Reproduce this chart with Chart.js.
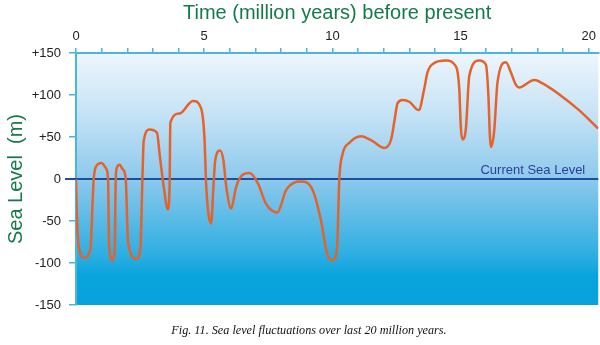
<!DOCTYPE html>
<html>
<head>
<meta charset="utf-8">
<script src="https://cdn.jsdelivr.net/npm/chart.js@4"></script>
<style>
  html, body { margin: 0; padding: 0; background: #ffffff; }
  #wrap { position: relative; width: 600px; height: 345px; }
</style>
</head>
<body>
<div id="wrap"><canvas id="c" width="600" height="345"></canvas></div>
<script>
// ---- data ----
const timeMyr = [0.00,0.03,0.12,0.34,0.56,0.69,0.77,0.99,1.18,1.25,1.29,1.42,1.51,1.55,1.60,1.70,1.81,1.94,2.03,2.35,2.51,2.59,2.64,2.87,3.16,3.26,3.42,3.58,3.65,3.68,4.04,4.56,4.88,5.01,5.08,5.27,5.36,5.43,5.62,5.75,5.86,6.05,6.25,6.50,6.77,7.09,7.42,7.85,8.20,8.78,9.23,9.56,9.78,10.01,10.18,10.27,10.40,10.66,11.12,11.57,12.03,12.29,12.42,12.54,12.74,13.00,13.37,13.58,13.71,13.97,14.43,14.82,14.95,15.01,15.08,15.21,15.34,15.73,15.99,16.09,16.14,16.18,16.31,16.44,16.77,16.96,17.16,17.28,17.87,18.45,18.84,19.62,20.37];
const seaLevel = [0,-40,-83,-94,-83,0,14,19,12,0,-79,-97,-83,0,14,17,12,0,-75,-95,-83,0,45,59,55,30,-9,-36,-9,67,78,93,84,49,-9,-53,-9,22,34,22,-9,-35,-9,5,7,-5,-30,-40,-13,-3,-13,-50,-87,-97,-83,0,30,43,51,45,37,47,69,90,94,92,82,107,127,138,141,134,107,61,47,61,123,141,136,96,53,38,57,115,139,127,112,109,118,109,101,82,60];
const xTickValues = [0,1,2,3,4,5,6,7,8,9,10,11,12,13,14,15,16,17,18,19,20];
const xTickLabels = [0, 5, 10, 15, 20];
const yTickValues = [150, 100, 50, 0, -50, -100, -150];
const currentSeaLevel = 0;
const xTitle = 'Time (million years) before present';
const yTitle = 'Sea Level  (m)';
const refLabel = 'Current Sea Level';
const caption = 'Fig. 11. Sea level fluctuations over last 20 million years.';

const SANS = "Arial, 'Liberation Sans', sans-serif";
const AXIS_BLUE = '#4cb4e0';

const bgPlugin = {
  id: 'bg',
  beforeDraw(chart) {
    const {ctx, chartArea: a} = chart;
    const g = ctx.createLinearGradient(0, a.top, 0, a.bottom);
    g.addColorStop(0, '#eef6fc');
    g.addColorStop(0.25, '#c4e2f5');
    g.addColorStop(0.5, '#8dc9ec');
    g.addColorStop(0.8, '#2eaee2');
    g.addColorStop(0.88, '#0aa4dc');
    g.addColorStop(1, '#06a2db');
    ctx.save();
    ctx.fillStyle = g;
    ctx.fillRect(a.left, a.top, a.right - a.left, a.bottom - a.top);
    ctx.restore();
  }
};

const refLinePlugin = {
  id: 'refLine',
  beforeDatasetsDraw(chart) {
    const {ctx, chartArea: a, scales} = chart;
    const y = scales.y.getPixelForValue(currentSeaLevel);
    ctx.save();
    ctx.strokeStyle = '#1d4f9e';
    ctx.lineWidth = 2;
    ctx.beginPath();
    ctx.moveTo(a.left - 11, y);
    ctx.lineTo(a.right, y);
    ctx.stroke();
    ctx.fillStyle = '#2c3f98';
    ctx.font = '13px ' + SANS;
    ctx.textAlign = 'right';
    ctx.textBaseline = 'middle';
    ctx.fillText(refLabel, a.right - 13, y - 9);
    ctx.restore();
  },
  afterDraw(chart) {
    const {ctx, chartArea: a} = chart;
    ctx.save();
    ctx.fillStyle = '#111111';
    ctx.font = "italic 12.2px 'Liberation Serif', 'Times New Roman', serif";
    ctx.textAlign = 'center';
    ctx.textBaseline = 'middle';
    ctx.fillText(caption, 309, a.bottom + 26);
    ctx.restore();
  }
};

new Chart(document.getElementById('c'), {
  type: 'line',
  data: {
    datasets: [{
      data: timeMyr.map((t, i) => ({x: t, y: seaLevel[i]})),
      borderColor: '#e5622b',
      borderWidth: 2.5,
      pointRadius: 0,
      fill: false,
      cubicInterpolationMode: 'monotone'
    }]
  },
  options: {
    responsive: false,
    animation: false,
    layout: { padding: { top: 0, right: 0, bottom: 40, left: 0 } },
    plugins: { legend: { display: false }, tooltip: { enabled: false } },
    scales: {
      x: {
        type: 'linear',
        position: 'top',
        min: 0,
        max: 20.37,
        afterFit(scale) { scale.height = 53; },
        afterBuildTicks(scale) {
          scale.ticks = xTickValues.map(v => ({value: v}));
        },
        ticks: {
          autoSkip: false,
          maxRotation: 0,
          padding: 4,
          color: '#222222',
          font: { size: 13, family: SANS },
          callback: v => xTickLabels.includes(v) ? String(v) : ''
        },
        grid: { drawOnChartArea: false, drawTicks: true, tickLength: 5, color: AXIS_BLUE, lineWidth: 1.5 },
        border: { display: true, color: AXIS_BLUE, width: 2 },
        title: {
          display: true,
          text: xTitle,
          color: '#157a4a',
          font: { size: 20, family: SANS },
          padding: { top: 1, bottom: 0 }
        }
      },
      y: {
        min: -150,
        max: 150,
        afterFit(scale) { scale.width = 76; },
        afterBuildTicks(scale) {
          scale.ticks = yTickValues.map(v => ({value: v}));
        },
        ticks: {
          padding: 8,
          color: '#222222',
          font: { size: 13, family: SANS },
          callback: v => v > 0 ? '+' + v : String(v)
        },
        grid: { drawOnChartArea: false, drawTicks: true, tickLength: 7, color: AXIS_BLUE, lineWidth: 1.5 },
        border: { display: true, color: AXIS_BLUE, width: 2 },
        title: {
          display: true,
          text: yTitle,
          color: '#157a4a',
          font: { size: 20, family: SANS },
          padding: { top: 4, bottom: 0 }
        }
      }
    }
  },
  plugins: [bgPlugin, refLinePlugin]
});
</script>
</body>
</html>
